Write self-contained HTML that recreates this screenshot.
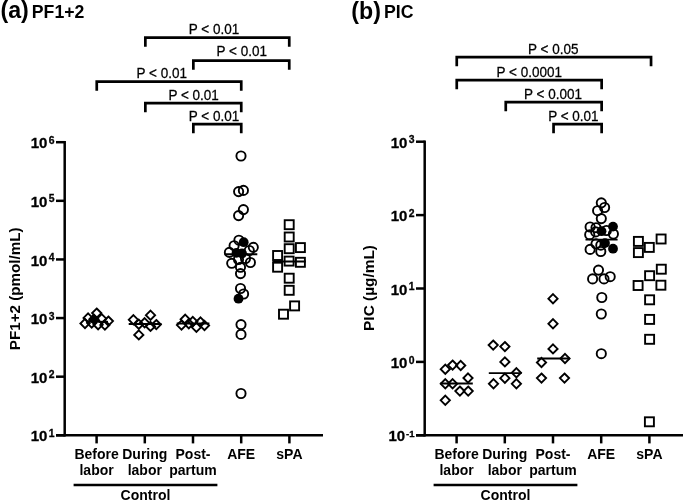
<!DOCTYPE html>
<html><head><meta charset="utf-8"><title>Figure</title>
<style>
html,body{margin:0;padding:0;background:#fff;}
svg{display:block;}
text{font-family:"Liberation Sans",Arial,Helvetica,sans-serif;fill:#000;}
.b{font-weight:bold;}
.r{font-weight:normal;}
</style></head><body>
<svg width="685" height="502" viewBox="0 0 685 502">
<rect width="100%" height="100%" fill="#fff"/>
<text transform="translate(0.5 18.3) scale(1 1.05)" class="b" font-size="23.2">(a)</text>
<text transform="translate(31.8 17.7) scale(1 1.055)" class="b" font-size="17.7">PF1+2</text>
<text transform="translate(351.3 18.8) scale(1 1.05)" class="b" font-size="23.2">(b)</text>
<text transform="translate(384 18.1) scale(1 1.055)" class="b" font-size="17.7">PIC</text>
<line x1="64.7" y1="140.95" x2="64.7" y2="436.55" stroke="#000" stroke-width="2.5" stroke-linecap="butt"/>
<line x1="56" y1="435.3" x2="323" y2="435.3" stroke="#000" stroke-width="2.5" stroke-linecap="butt"/>
<line x1="56" y1="142.2" x2="64.7" y2="142.2" stroke="#000" stroke-width="2.5" stroke-linecap="butt"/>
<text transform="translate(54.6 148.30) scale(1 1.03)" text-anchor="end" class="b" font-size="15" stroke="#000" stroke-width="0.3">10<tspan font-size="10.4" dy="-4.3" dx="1.4">6</tspan></text>
<line x1="56" y1="200.82" x2="64.7" y2="200.82" stroke="#000" stroke-width="2.5" stroke-linecap="butt"/>
<text transform="translate(54.6 206.92) scale(1 1.03)" text-anchor="end" class="b" font-size="15" stroke="#000" stroke-width="0.3">10<tspan font-size="10.4" dy="-4.3" dx="1.4">5</tspan></text>
<line x1="56" y1="259.44" x2="64.7" y2="259.44" stroke="#000" stroke-width="2.5" stroke-linecap="butt"/>
<text transform="translate(54.6 265.54) scale(1 1.03)" text-anchor="end" class="b" font-size="15" stroke="#000" stroke-width="0.3">10<tspan font-size="10.4" dy="-4.3" dx="1.4">4</tspan></text>
<line x1="56" y1="318.06" x2="64.7" y2="318.06" stroke="#000" stroke-width="2.5" stroke-linecap="butt"/>
<text transform="translate(54.6 324.16) scale(1 1.03)" text-anchor="end" class="b" font-size="15" stroke="#000" stroke-width="0.3">10<tspan font-size="10.4" dy="-4.3" dx="1.4">3</tspan></text>
<line x1="56" y1="376.68" x2="64.7" y2="376.68" stroke="#000" stroke-width="2.5" stroke-linecap="butt"/>
<text transform="translate(54.6 382.78) scale(1 1.03)" text-anchor="end" class="b" font-size="15" stroke="#000" stroke-width="0.3">10<tspan font-size="10.4" dy="-4.3" dx="1.4">2</tspan></text>
<line x1="56" y1="435.3" x2="64.7" y2="435.3" stroke="#000" stroke-width="2.5" stroke-linecap="butt"/>
<text transform="translate(54.6 441.40) scale(1 1.03)" text-anchor="end" class="b" font-size="15" stroke="#000" stroke-width="0.3">10<tspan font-size="10.4" dy="-4.3" dx="1.4">1</tspan></text>
<line x1="96.6" y1="435.3" x2="96.6" y2="443.4" stroke="#000" stroke-width="2.5" stroke-linecap="butt"/>
<line x1="144.8" y1="435.3" x2="144.8" y2="443.4" stroke="#000" stroke-width="2.5" stroke-linecap="butt"/>
<line x1="193.0" y1="435.3" x2="193.0" y2="443.4" stroke="#000" stroke-width="2.5" stroke-linecap="butt"/>
<line x1="241.20000000000002" y1="435.3" x2="241.20000000000002" y2="443.4" stroke="#000" stroke-width="2.5" stroke-linecap="butt"/>
<line x1="289.4" y1="435.3" x2="289.4" y2="443.4" stroke="#000" stroke-width="2.5" stroke-linecap="butt"/>
<text x="96.6" y="458.6" font-size="14" text-anchor="middle" class="b">Before</text>
<text x="96.6" y="474.6" font-size="14" text-anchor="middle" class="b">labor</text>
<text x="144.8" y="458.6" font-size="14" text-anchor="middle" class="b">During</text>
<text x="144.8" y="474.6" font-size="14" text-anchor="middle" class="b">labor</text>
<text x="193" y="458.6" font-size="14" text-anchor="middle" class="b">Post-</text>
<text x="193" y="474.6" font-size="14" text-anchor="middle" class="b">partum</text>
<text x="241.2" y="458.6" font-size="14" text-anchor="middle" class="b">AFE</text>
<text x="289.4" y="458.6" font-size="14" text-anchor="middle" class="b">sPA</text>
<line x1="73.6" y1="485" x2="217.4" y2="485" stroke="#000" stroke-width="2.5" stroke-linecap="butt"/>
<text x="145.5" y="499.9" font-size="14" text-anchor="middle" class="b">Control</text>
<text transform="translate(19.7 288.8) rotate(-90)" text-anchor="middle" class="b" font-size="15.2">PF1+2 (pmol/mL)</text>
<path d="M145.35 46.75V37.55H289.25V46.75" fill="none" stroke="#000" stroke-width="2.7" stroke-linejoin="miter"/>
<text transform="translate(188.8 34.00) scale(1 1.09)" font-size="13.5" text-anchor="start" class="r" stroke="#000" stroke-width="0.25">P &lt; 0.01</text>
<path d="M193.35 69.75V60.55H289.25V69.75" fill="none" stroke="#000" stroke-width="2.7" stroke-linejoin="miter"/>
<text transform="translate(216.6 56.40) scale(1 1.09)" font-size="13.5" text-anchor="start" class="r" stroke="#000" stroke-width="0.25">P &lt; 0.01</text>
<path d="M96.75 90.75V81.55H241.25V90.75" fill="none" stroke="#000" stroke-width="2.7" stroke-linejoin="miter"/>
<text transform="translate(136.6 78.40) scale(1 1.09)" font-size="13.5" text-anchor="start" class="r" stroke="#000" stroke-width="0.25">P &lt; 0.01</text>
<path d="M145.35 112.35V103.15H241.25V112.35" fill="none" stroke="#000" stroke-width="2.7" stroke-linejoin="miter"/>
<text transform="translate(168.4 100.40) scale(1 1.09)" font-size="13.5" text-anchor="start" class="r" stroke="#000" stroke-width="0.25">P &lt; 0.01</text>
<path d="M193.35 133.35V124.15H241.25V133.35" fill="none" stroke="#000" stroke-width="2.7" stroke-linejoin="miter"/>
<text transform="translate(188.8 121.00) scale(1 1.09)" font-size="13.5" text-anchor="start" class="r" stroke="#000" stroke-width="0.25">P &lt; 0.01</text>
<path d="M85 318.90L89.60 323.5L85 328.10L80.40 323.5Z" fill="none" stroke="#000" stroke-width="1.9"/>
<path d="M88.1 313.30L92.70 317.9L88.1 322.50L83.50 317.9Z" fill="none" stroke="#000" stroke-width="1.9"/>
<path d="M96.7 308.50L101.30 313.1L96.7 317.70L92.10 313.1Z" fill="none" stroke="#000" stroke-width="1.9"/>
<path d="M98.1 320.10L102.70 324.7L98.1 329.30L93.50 324.7Z" fill="none" stroke="#000" stroke-width="1.9"/>
<path d="M101.7 314.10L106.30 318.7L101.7 323.30L97.10 318.7Z" fill="none" stroke="#000" stroke-width="1.9"/>
<path d="M104.9 320.50L109.50 325.1L104.9 329.70L100.30 325.1Z" fill="none" stroke="#000" stroke-width="1.9"/>
<path d="M108.4 316.50L113.00 321.1L108.4 325.70L103.80 321.1Z" fill="none" stroke="#000" stroke-width="1.9"/>
<path d="M91.7 318.50L96.30 323.1L91.7 327.70L87.10 323.1Z" fill="none" stroke="#000" stroke-width="1.9"/>
<path d="M93.9 314.70L98.50 319.3L93.9 323.90L89.30 319.3Z" fill="#000" stroke="#000" stroke-width="1.9"/>
<line x1="86" y1="321.8" x2="108" y2="321.8" stroke="#000" stroke-width="1.9" stroke-linecap="butt"/>
<path d="M133.4 315.10L138.00 319.7L133.4 324.30L128.80 319.7Z" fill="none" stroke="#000" stroke-width="1.9"/>
<path d="M150.5 310.60L155.10 315.2L150.5 319.80L145.90 315.2Z" fill="none" stroke="#000" stroke-width="1.9"/>
<path d="M138.8 319.60L143.40 324.2L138.8 328.80L134.20 324.2Z" fill="none" stroke="#000" stroke-width="1.9"/>
<path d="M144.6 318.20L149.20 322.8L144.6 327.40L140.00 322.8Z" fill="none" stroke="#000" stroke-width="1.9"/>
<path d="M150.5 321.80L155.10 326.4L150.5 331.00L145.90 326.4Z" fill="none" stroke="#000" stroke-width="1.9"/>
<path d="M156.3 320.00L160.90 324.6L156.3 329.20L151.70 324.6Z" fill="none" stroke="#000" stroke-width="1.9"/>
<path d="M138.8 330.30L143.40 334.9L138.8 339.50L134.20 334.9Z" fill="none" stroke="#000" stroke-width="1.9"/>
<line x1="128.7" y1="324" x2="161.5" y2="324" stroke="#000" stroke-width="1.9" stroke-linecap="butt"/>
<path d="M181.5 320.50L186.10 325.1L181.5 329.70L176.90 325.1Z" fill="none" stroke="#000" stroke-width="1.9"/>
<path d="M185.2 314.70L189.80 319.3L185.2 323.90L180.60 319.3Z" fill="none" stroke="#000" stroke-width="1.9"/>
<path d="M188.8 319.10L193.40 323.7L188.8 328.30L184.20 323.7Z" fill="none" stroke="#000" stroke-width="1.9"/>
<path d="M192.8 316.90L197.40 321.5L192.8 326.10L188.20 321.5Z" fill="none" stroke="#000" stroke-width="1.9"/>
<path d="M196.4 322.70L201.00 327.3L196.4 331.90L191.80 327.3Z" fill="none" stroke="#000" stroke-width="1.9"/>
<path d="M200.5 317.40L205.10 322L200.5 326.60L195.90 322Z" fill="none" stroke="#000" stroke-width="1.9"/>
<path d="M204.5 320.90L209.10 325.5L204.5 330.10L199.90 325.5Z" fill="none" stroke="#000" stroke-width="1.9"/>
<line x1="176.7" y1="323.5" x2="209.4" y2="323.5" stroke="#000" stroke-width="1.9" stroke-linecap="butt"/>
<circle cx="241" cy="156" r="4.6" fill="none" stroke="#000" stroke-width="1.9"/>
<circle cx="238.6" cy="191.6" r="4.6" fill="none" stroke="#000" stroke-width="1.9"/>
<circle cx="243.4" cy="190.4" r="4.6" fill="none" stroke="#000" stroke-width="1.9"/>
<circle cx="243.4" cy="209.6" r="4.6" fill="none" stroke="#000" stroke-width="1.9"/>
<circle cx="238.6" cy="215.6" r="4.6" fill="none" stroke="#000" stroke-width="1.9"/>
<circle cx="238.9" cy="240.2" r="4.6" fill="none" stroke="#000" stroke-width="1.9"/>
<circle cx="243.7" cy="242.2" r="4.9" fill="#000"/>
<circle cx="234.1" cy="245.7" r="4.6" fill="none" stroke="#000" stroke-width="1.9"/>
<circle cx="253.3" cy="247.3" r="4.6" fill="none" stroke="#000" stroke-width="1.9"/>
<circle cx="229.4" cy="252.4" r="4.6" fill="none" stroke="#000" stroke-width="1.9"/>
<circle cx="236.5" cy="252.9" r="4.9" fill="#000"/>
<circle cx="242" cy="253.5" r="4.9" fill="#000"/>
<circle cx="249.3" cy="250.5" r="4.6" fill="none" stroke="#000" stroke-width="1.9"/>
<circle cx="231.7" cy="263.3" r="4.6" fill="none" stroke="#000" stroke-width="1.9"/>
<circle cx="250.4" cy="262.5" r="4.6" fill="none" stroke="#000" stroke-width="1.9"/>
<circle cx="238.5" cy="259.5" r="4.6" fill="none" stroke="#000" stroke-width="1.9"/>
<circle cx="245.5" cy="258.5" r="4.6" fill="none" stroke="#000" stroke-width="1.9"/>
<circle cx="240.5" cy="267.3" r="4.6" fill="none" stroke="#000" stroke-width="1.9"/>
<circle cx="240.5" cy="273.6" r="4.6" fill="none" stroke="#000" stroke-width="1.9"/>
<circle cx="240.5" cy="288.5" r="4.6" fill="none" stroke="#000" stroke-width="1.9"/>
<circle cx="243.6" cy="294" r="4.6" fill="none" stroke="#000" stroke-width="1.9"/>
<circle cx="238.5" cy="298.7" r="4.9" fill="#000"/>
<circle cx="241" cy="324.6" r="4.6" fill="none" stroke="#000" stroke-width="1.9"/>
<circle cx="241" cy="334.4" r="4.6" fill="none" stroke="#000" stroke-width="1.9"/>
<circle cx="241" cy="393.5" r="4.6" fill="none" stroke="#000" stroke-width="1.9"/>
<line x1="224.6" y1="254.2" x2="257.3" y2="254.2" stroke="#000" stroke-width="1.9" stroke-linecap="butt"/>
<rect x="284.70" y="220.20" width="9.0" height="9.0" fill="none" stroke="#000" stroke-width="1.9"/>
<rect x="284.70" y="232.50" width="9.0" height="9.0" fill="none" stroke="#000" stroke-width="1.9"/>
<rect x="284.70" y="244.20" width="9.0" height="9.0" fill="none" stroke="#000" stroke-width="1.9"/>
<rect x="295.90" y="243.10" width="9.0" height="9.0" fill="none" stroke="#000" stroke-width="1.9"/>
<rect x="273.10" y="251.00" width="9.0" height="9.0" fill="none" stroke="#000" stroke-width="1.9"/>
<rect x="284.60" y="256.60" width="9.0" height="9.0" fill="none" stroke="#000" stroke-width="1.9"/>
<rect x="295.90" y="257.80" width="9.0" height="9.0" fill="none" stroke="#000" stroke-width="1.9"/>
<rect x="273.10" y="262.70" width="9.0" height="9.0" fill="none" stroke="#000" stroke-width="1.9"/>
<rect x="284.70" y="273.70" width="9.0" height="9.0" fill="none" stroke="#000" stroke-width="1.9"/>
<rect x="284.70" y="285.80" width="9.0" height="9.0" fill="none" stroke="#000" stroke-width="1.9"/>
<rect x="290.10" y="301.40" width="9.0" height="9.0" fill="none" stroke="#000" stroke-width="1.9"/>
<rect x="279.00" y="309.70" width="9.0" height="9.0" fill="none" stroke="#000" stroke-width="1.9"/>
<line x1="272.4" y1="261.5" x2="305.8" y2="261.5" stroke="#000" stroke-width="1.9" stroke-linecap="butt"/>
<line x1="424.7" y1="140.45" x2="424.7" y2="436.55" stroke="#000" stroke-width="2.5" stroke-linecap="butt"/>
<line x1="416" y1="435.3" x2="683" y2="435.3" stroke="#000" stroke-width="2.5" stroke-linecap="butt"/>
<line x1="416" y1="141.7" x2="424.7" y2="141.7" stroke="#000" stroke-width="2.5" stroke-linecap="butt"/>
<text transform="translate(414.6 147.80) scale(1 1.03)" text-anchor="end" class="b" font-size="15" stroke="#000" stroke-width="0.3">10<tspan font-size="10.4" dy="-4.3" dx="1.4">3</tspan></text>
<line x1="416" y1="215.1" x2="424.7" y2="215.1" stroke="#000" stroke-width="2.5" stroke-linecap="butt"/>
<text transform="translate(414.6 221.20) scale(1 1.03)" text-anchor="end" class="b" font-size="15" stroke="#000" stroke-width="0.3">10<tspan font-size="10.4" dy="-4.3" dx="1.4">2</tspan></text>
<line x1="416" y1="288.5" x2="424.7" y2="288.5" stroke="#000" stroke-width="2.5" stroke-linecap="butt"/>
<text transform="translate(414.6 294.60) scale(1 1.03)" text-anchor="end" class="b" font-size="15" stroke="#000" stroke-width="0.3">10<tspan font-size="10.4" dy="-4.3" dx="1.4">1</tspan></text>
<line x1="416" y1="361.9" x2="424.7" y2="361.9" stroke="#000" stroke-width="2.5" stroke-linecap="butt"/>
<text transform="translate(414.6 368.00) scale(1 1.03)" text-anchor="end" class="b" font-size="15" stroke="#000" stroke-width="0.3">10<tspan font-size="10.4" dy="-4.3" dx="1.4">0</tspan></text>
<line x1="416" y1="435.3" x2="424.7" y2="435.3" stroke="#000" stroke-width="2.5" stroke-linecap="butt"/>
<text transform="translate(414.6 441.40) scale(1 1.03)" text-anchor="end" class="b" font-size="15" stroke="#000" stroke-width="0.3">10<tspan font-size="9.6" dy="-4.3" dx="1.0">-1</tspan></text>
<line x1="456.6" y1="435.3" x2="456.6" y2="443.4" stroke="#000" stroke-width="2.5" stroke-linecap="butt"/>
<line x1="504.8" y1="435.3" x2="504.8" y2="443.4" stroke="#000" stroke-width="2.5" stroke-linecap="butt"/>
<line x1="553.0" y1="435.3" x2="553.0" y2="443.4" stroke="#000" stroke-width="2.5" stroke-linecap="butt"/>
<line x1="601.2" y1="435.3" x2="601.2" y2="443.4" stroke="#000" stroke-width="2.5" stroke-linecap="butt"/>
<line x1="649.4" y1="435.3" x2="649.4" y2="443.4" stroke="#000" stroke-width="2.5" stroke-linecap="butt"/>
<text x="456.6" y="458.6" font-size="14" text-anchor="middle" class="b">Before</text>
<text x="456.6" y="474.6" font-size="14" text-anchor="middle" class="b">labor</text>
<text x="504.8" y="458.6" font-size="14" text-anchor="middle" class="b">During</text>
<text x="504.8" y="474.6" font-size="14" text-anchor="middle" class="b">labor</text>
<text x="553" y="458.6" font-size="14" text-anchor="middle" class="b">Post-</text>
<text x="553" y="474.6" font-size="14" text-anchor="middle" class="b">partum</text>
<text x="601.2" y="458.6" font-size="14" text-anchor="middle" class="b">AFE</text>
<text x="649.4" y="458.6" font-size="14" text-anchor="middle" class="b">sPA</text>
<line x1="433.6" y1="485" x2="577.4" y2="485" stroke="#000" stroke-width="2.5" stroke-linecap="butt"/>
<text x="505.5" y="499.9" font-size="14" text-anchor="middle" class="b">Control</text>
<text transform="translate(373.7 288) rotate(-90)" text-anchor="middle" class="b" font-size="15.4">PIC (µg/mL)</text>
<path d="M456.75 66.35V57.15H651.05V66.35" fill="none" stroke="#000" stroke-width="2.7" stroke-linejoin="miter"/>
<text transform="translate(528 54.00) scale(1 1.09)" font-size="13.5" text-anchor="start" class="r" stroke="#000" stroke-width="0.25">P &lt; 0.05</text>
<path d="M456.75 89.35V80.15H601.65V89.35" fill="none" stroke="#000" stroke-width="2.7" stroke-linejoin="miter"/>
<text transform="translate(496.6 76.80) scale(1 1.09)" font-size="13.5" text-anchor="start" class="r" stroke="#000" stroke-width="0.25">P &lt; 0.0001</text>
<path d="M505.75 111.35V102.15H601.65V111.35" fill="none" stroke="#000" stroke-width="2.7" stroke-linejoin="miter"/>
<text transform="translate(524 98.80) scale(1 1.09)" font-size="13.5" text-anchor="start" class="r" stroke="#000" stroke-width="0.25">P &lt; 0.001</text>
<path d="M553.55 133.35V124.15H601.65V133.35" fill="none" stroke="#000" stroke-width="2.7" stroke-linejoin="miter"/>
<text transform="translate(548.2 120.60) scale(1 1.09)" font-size="13.5" text-anchor="start" class="r" stroke="#000" stroke-width="0.25">P &lt; 0.01</text>
<path d="M445.3 364.60L449.90 369.2L445.3 373.80L440.70 369.2Z" fill="none" stroke="#000" stroke-width="1.9"/>
<path d="M452.6 360.50L457.20 365.1L452.6 369.70L448.00 365.1Z" fill="none" stroke="#000" stroke-width="1.9"/>
<path d="M460.7 360.90L465.30 365.5L460.7 370.10L456.10 365.5Z" fill="none" stroke="#000" stroke-width="1.9"/>
<path d="M468 373.40L472.60 378L468 382.60L463.40 378Z" fill="none" stroke="#000" stroke-width="1.9"/>
<path d="M445.3 379.20L449.90 383.8L445.3 388.40L440.70 383.8Z" fill="none" stroke="#000" stroke-width="1.9"/>
<path d="M452.6 379.20L457.20 383.8L452.6 388.40L448.00 383.8Z" fill="none" stroke="#000" stroke-width="1.9"/>
<path d="M459.9 386.50L464.50 391.1L459.9 395.70L455.30 391.1Z" fill="none" stroke="#000" stroke-width="1.9"/>
<path d="M468.2 386.50L472.80 391.1L468.2 395.70L463.60 391.1Z" fill="none" stroke="#000" stroke-width="1.9"/>
<path d="M445.3 395.70L449.90 400.3L445.3 404.90L440.70 400.3Z" fill="none" stroke="#000" stroke-width="1.9"/>
<line x1="440.2" y1="383.5" x2="472.8" y2="383.5" stroke="#000" stroke-width="1.9" stroke-linecap="butt"/>
<path d="M493.2 340.50L497.80 345.1L493.2 349.70L488.60 345.1Z" fill="none" stroke="#000" stroke-width="1.9"/>
<path d="M504.9 342.00L509.50 346.6L504.9 351.20L500.30 346.6Z" fill="none" stroke="#000" stroke-width="1.9"/>
<path d="M504.9 357.30L509.50 361.9L504.9 366.50L500.30 361.9Z" fill="none" stroke="#000" stroke-width="1.9"/>
<path d="M516.4 368.20L521.00 372.8L516.4 377.40L511.80 372.8Z" fill="none" stroke="#000" stroke-width="1.9"/>
<path d="M504.9 373.60L509.50 378.2L504.9 382.80L500.30 378.2Z" fill="none" stroke="#000" stroke-width="1.9"/>
<path d="M493.5 379.20L498.10 383.8L493.5 388.40L488.90 383.8Z" fill="none" stroke="#000" stroke-width="1.9"/>
<path d="M516.4 379.20L521.00 383.8L516.4 388.40L511.80 383.8Z" fill="none" stroke="#000" stroke-width="1.9"/>
<line x1="488.8" y1="373.1" x2="521.7" y2="373.1" stroke="#000" stroke-width="1.9" stroke-linecap="butt"/>
<path d="M553 294.10L557.60 298.7L553 303.30L548.40 298.7Z" fill="none" stroke="#000" stroke-width="1.9"/>
<path d="M553 319.20L557.60 323.8L553 328.40L548.40 323.8Z" fill="none" stroke="#000" stroke-width="1.9"/>
<path d="M553 344.30L557.60 348.9L553 353.50L548.40 348.9Z" fill="none" stroke="#000" stroke-width="1.9"/>
<path d="M565 353.90L569.60 358.5L565 363.10L560.40 358.5Z" fill="none" stroke="#000" stroke-width="1.9"/>
<path d="M541.5 357.90L546.10 362.5L541.5 367.10L536.90 362.5Z" fill="none" stroke="#000" stroke-width="1.9"/>
<path d="M541.5 373.50L546.10 378.1L541.5 382.70L536.90 378.1Z" fill="none" stroke="#000" stroke-width="1.9"/>
<path d="M564.5 373.50L569.10 378.1L564.5 382.70L559.90 378.1Z" fill="none" stroke="#000" stroke-width="1.9"/>
<line x1="537.2" y1="358.5" x2="569.8" y2="358.5" stroke="#000" stroke-width="1.9" stroke-linecap="butt"/>
<circle cx="601.3" cy="202.8" r="4.6" fill="none" stroke="#000" stroke-width="1.9"/>
<circle cx="604.6" cy="207.5" r="4.6" fill="none" stroke="#000" stroke-width="1.9"/>
<circle cx="597.6" cy="210.7" r="4.6" fill="none" stroke="#000" stroke-width="1.9"/>
<circle cx="601.3" cy="218.6" r="4.6" fill="none" stroke="#000" stroke-width="1.9"/>
<circle cx="590.1" cy="227" r="4.6" fill="none" stroke="#000" stroke-width="1.9"/>
<circle cx="596" cy="227.7" r="4.6" fill="none" stroke="#000" stroke-width="1.9"/>
<circle cx="613" cy="226.6" r="4.9" fill="#000"/>
<circle cx="601.5" cy="231.2" r="4.9" fill="#000"/>
<circle cx="589.7" cy="234.7" r="4.6" fill="none" stroke="#000" stroke-width="1.9"/>
<circle cx="595.7" cy="231.9" r="4.6" fill="none" stroke="#000" stroke-width="1.9"/>
<circle cx="613.4" cy="234" r="4.6" fill="none" stroke="#000" stroke-width="1.9"/>
<circle cx="606.4" cy="230.5" r="4.6" fill="none" stroke="#000" stroke-width="1.9"/>
<circle cx="590.1" cy="249.4" r="4.6" fill="none" stroke="#000" stroke-width="1.9"/>
<circle cx="600.8" cy="251.5" r="4.6" fill="none" stroke="#000" stroke-width="1.9"/>
<circle cx="613" cy="248.7" r="4.9" fill="#000"/>
<circle cx="600.8" cy="245.2" r="4.6" fill="none" stroke="#000" stroke-width="1.9"/>
<circle cx="605" cy="243.1" r="4.9" fill="#000"/>
<circle cx="596" cy="243.8" r="4.6" fill="none" stroke="#000" stroke-width="1.9"/>
<circle cx="598.5" cy="270.1" r="4.6" fill="none" stroke="#000" stroke-width="1.9"/>
<circle cx="592.6" cy="278.9" r="4.6" fill="none" stroke="#000" stroke-width="1.9"/>
<circle cx="604" cy="278.9" r="4.6" fill="none" stroke="#000" stroke-width="1.9"/>
<circle cx="610.2" cy="276.7" r="4.6" fill="none" stroke="#000" stroke-width="1.9"/>
<circle cx="601.8" cy="297.5" r="4.6" fill="none" stroke="#000" stroke-width="1.9"/>
<circle cx="601.3" cy="314" r="4.6" fill="none" stroke="#000" stroke-width="1.9"/>
<circle cx="601.3" cy="353.7" r="4.6" fill="none" stroke="#000" stroke-width="1.9"/>
<line x1="585.5" y1="239.6" x2="617.6" y2="239.6" stroke="#000" stroke-width="1.9" stroke-linecap="butt"/>
<rect x="633.90" y="236.90" width="9.0" height="9.0" fill="none" stroke="#000" stroke-width="1.9"/>
<rect x="656.60" y="234.50" width="9.0" height="9.0" fill="none" stroke="#000" stroke-width="1.9"/>
<rect x="644.80" y="242.90" width="9.0" height="9.0" fill="none" stroke="#000" stroke-width="1.9"/>
<rect x="633.90" y="248.10" width="9.0" height="9.0" fill="none" stroke="#000" stroke-width="1.9"/>
<rect x="656.80" y="264.70" width="9.0" height="9.0" fill="none" stroke="#000" stroke-width="1.9"/>
<rect x="645.10" y="271.20" width="9.0" height="9.0" fill="none" stroke="#000" stroke-width="1.9"/>
<rect x="633.60" y="281.00" width="9.0" height="9.0" fill="none" stroke="#000" stroke-width="1.9"/>
<rect x="656.40" y="280.70" width="9.0" height="9.0" fill="none" stroke="#000" stroke-width="1.9"/>
<rect x="645.10" y="295.30" width="9.0" height="9.0" fill="none" stroke="#000" stroke-width="1.9"/>
<rect x="645.10" y="314.90" width="9.0" height="9.0" fill="none" stroke="#000" stroke-width="1.9"/>
<rect x="645.10" y="334.80" width="9.0" height="9.0" fill="none" stroke="#000" stroke-width="1.9"/>
<rect x="644.90" y="417.30" width="9.0" height="9.0" fill="none" stroke="#000" stroke-width="1.9"/>
</svg>
</body></html>
